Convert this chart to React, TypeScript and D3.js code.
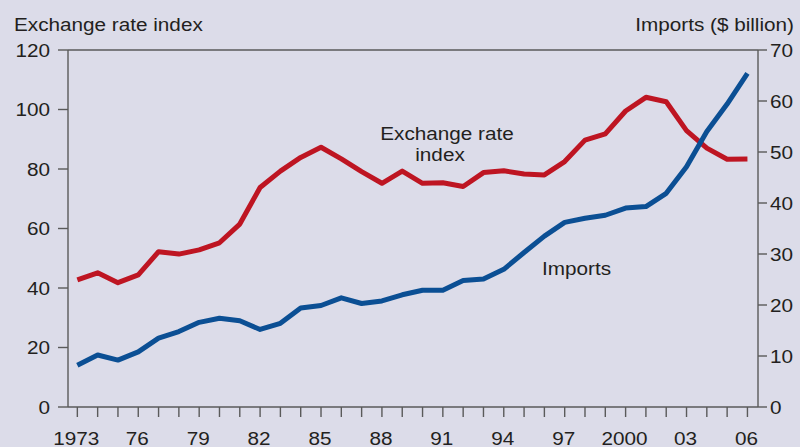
import * as d3 from "d3";

const years = d3.range(1973, 2007);
const exchangeRate = [
  42.7, 45.1, 41.8, 44.4, 52.2, 51.4, 52.8, 55.2, 61.5, 73.8, 79.3, 83.9,
  87.3, 83.4, 79.1, 75.2, 79.3, 75.2, 75.4, 74.1, 78.8, 79.4, 78.3, 78.0,
  82.5, 89.7, 91.8, 99.5, 104.1, 102.6, 92.9, 87.0, 83.3, 83.4,
];
const imports = [
  8.2, 10.2, 9.2, 10.8, 13.5, 14.8, 16.6, 17.4, 16.9, 15.2, 16.4, 19.4, 19.9,
  21.4, 20.3, 20.8, 22.0, 22.9, 22.9, 24.8, 25.1, 27.0, 30.3, 33.5, 36.2, 37.0,
  37.6, 39.0, 39.3, 41.9, 47.1, 54.0, 59.4, 65.4,
];
const leftTicks = [0, 20, 40, 60, 80, 100, 120];
const rightTicks = [0, 10, 20, 30, 40, 50, 60, 70];
const labelYears = [1973, 1976, 1979, 1982, 1985, 1988, 1991, 1994, 1997, 2000, 2003, 2006];

const W = 800;
const H = 447;
const left = 68;
const right = 758;
const top = 50;
const bottom = 407;

const bg = "#dcdce9";
const axisColor = "#5a5a5a";
const textColor = "#231f20";
const red = "#be1522";
const blue = "#0b4f94";

const fmtYear = (y: number) =>
  y === 1973 || y === 2000 ? String(y) : String(y).slice(2);

// glyphs in the original are a bit wider than Arial, so stretch horizontally
const T = ({ x, y, anchor = "start", children }: any) => (
  <text
    transform={`translate(${x},${y}) scale(1.12,1)`}
    textAnchor={anchor}
    fontFamily="'Liberation Sans', Arial, sans-serif"
    fontSize={18.5}
    fill={textColor}
  >
    {children}
  </text>
);

export default function App() {
  const x = d3.scaleLinear().domain([1972.54, 2006.52]).range([left, right]);
  const yL = d3.scaleLinear().domain([0, 120]).range([bottom, top]);
  const yR = d3.scaleLinear().domain([0, 70]).range([bottom, top]);

  const erLine = d3
    .line<number>()
    .x((_, i) => x(years[i]))
    .y((d) => yL(d));
  const impLine = d3
    .line<number>()
    .x((_, i) => x(years[i]))
    .y((d) => yR(d));

  return (
    <svg
      width={W}
      height={H}
      style={{ position: "absolute", left: 0, top: 0, display: "block" }}
    >
      <rect width={W} height={H} fill={bg} />

      <T x={14} y={31}>Exchange rate index</T>
      <T x={794} y={31} anchor="end">Imports ($ billion)</T>

      {/* frame */}
      <g stroke={axisColor} strokeWidth={1.4} fill="none">
        <line x1={left} x2={right} y1={top} y2={top} />
        <line x1={left} x2={right} y1={bottom} y2={bottom} />
        <line x1={left} x2={left} y1={top} y2={bottom} />
        <line x1={right} x2={right} y1={top} y2={bottom} />
        {leftTicks.map((t) => (
          <line key={"l" + t} x1={left - 10} x2={left} y1={yL(t)} y2={yL(t)} />
        ))}
        {rightTicks.map((t) => (
          <line key={"r" + t} x1={right} x2={right + 9} y1={yR(t)} y2={yR(t)} />
        ))}
        {years.map((yr) => (
          <line key={yr} x1={x(yr)} x2={x(yr)} y1={bottom} y2={bottom + 10} />
        ))}
      </g>

      {leftTicks.map((t) => (
        <T key={"lt" + t} x={50} y={yL(t) + 6.6} anchor="end">
          {t}
        </T>
      ))}
      {rightTicks.map((t) => (
        <T key={"rt" + t} x={770} y={yR(t) + 6.6}>
          {t}
        </T>
      ))}
      {labelYears.map((yr) => (
        <T key={"x" + yr} x={x(yr) - 1} y={445} anchor="middle">
          {fmtYear(yr)}
        </T>
      ))}

      <path
        d={erLine(exchangeRate) ?? ""}
        fill="none"
        stroke={red}
        strokeWidth={5}
        strokeLinejoin="round"
      />
      <path
        d={impLine(imports) ?? ""}
        fill="none"
        stroke={blue}
        strokeWidth={5}
        strokeLinejoin="round"
      />

      <T x={447} y={140} anchor="middle">Exchange rate</T>
      <T x={440} y={161} anchor="middle">index</T>
      <T x={542} y={275}>Imports</T>
    </svg>
  );
}
